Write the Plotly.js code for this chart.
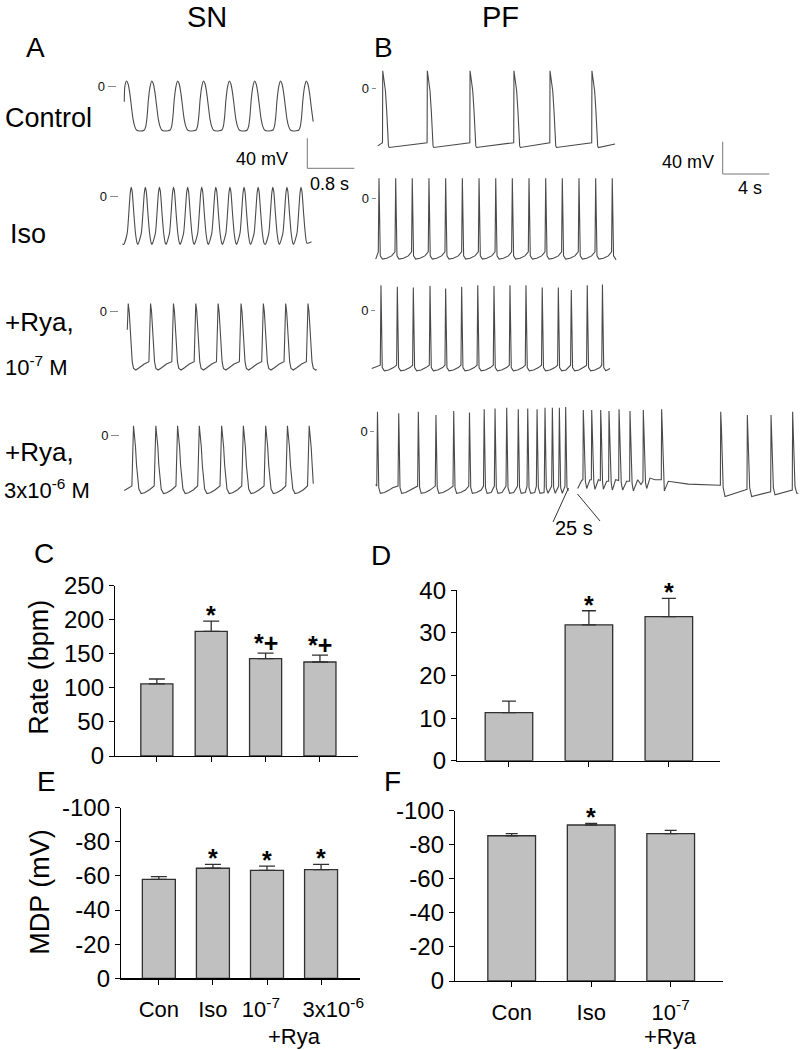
<!DOCTYPE html>
<html><head><meta charset="utf-8">
<script src="https://cdn.plot.ly/plotly-3.0.1.min.js"></script>
<style>html,body{margin:0;padding:0;background:#fff}#chart{width:803px;height:1050px}</style>
</head><body><div id="chart"></div>
<script>
// ---------------- DATA ----------------
// SN (sinus node) traces: peak times (s), beat waveform (offset s, mV), start/end points [s, mV]
const snControlPeaks = [0.11, 0.54, 0.98, 1.42, 1.86, 2.29, 2.73, 3.17];
const snControlWaveT = [-0.125,-0.102,-0.079,-0.057,-0.028,0,0.028,0.057,0.085,0.113,0.142,0.17,0.227];
const snControlWaveV = [-57.7,-53.3,-40,-17.8,0,7.6,3.6,-8.9,-26.7,-43.6,-53.3,-57.7,-59.1];
const snControlEnds = [[0.073,-20],[3.29,-46.7]];

const snIsoPeaks = [0.19, 0.43, 0.67, 0.91, 1.15, 1.39, 1.63, 1.87, 2.11, 2.35, 2.60, 2.84, 3.08];
const snIsoWaveT = [-0.125,-0.068,-0.04,-0.017,0,0.017,0.045,0.074,0.102];
const snIsoWaveV = [-63.5,-49,-22,4,12.5,7,-22,-49,-62];
const snIsoEnds = [[0.04,-63],[3.26,-60]];

const snRya1Peaks = [0.14, 0.52, 0.91, 1.29, 1.67, 2.06, 2.44, 2.82, 3.20];
const snRya1WaveT = [-0.028,0,0.017,0.034,0.051,0.068,0.091,0.13,0.187,0.272];
const snRya1WaveV = [-66.7,11,0,-20,-47,-67,-75.6,-77.8,-74.7,-69.8];
const snRya1Ends = [[0.124,-24],[3.348,-77]];

const snRya3Peaks = [0.23, 0.61, 0.98, 1.35, 1.73, 2.10, 2.48, 2.85, 3.22];
const snRya3WaveT = [-0.028,0,0.017,0.034,0.051,0.068,0.091,0.13,0.187,0.272];
const snRya3WaveV = [-68,12.4,2,-16,-40,-60,-72,-78,-77,-73];
const snRya3Ends = [[0.073,-74],[3.29,-65]];

// PF (Purkinje fibre) traces
const pfControlPeaks = [1.09, 4.91, 8.57, 12.33, 15.42, 19.01];
const pfControlWaveT = [-0.02,0,0.09,0.23,0.34,0.43,0.49,0.55];
const pfControlWaveV = [-68,22,13,-3,-28,-58,-72,-74];
const pfControlEnds = [[0.66,-72],[20.99,-69.6]];

const pfIsoPeaks = [0.77, 2.20, 3.62, 5.05, 6.48, 7.91, 9.34, 10.77, 12.19, 13.62, 15.05, 16.47, 17.90, 19.33, 20.75];
const pfIsoWaveT = [-0.06,0,0.03,0.11,0.29,0.66,1.08,1.3];
const pfIsoWaveV = [-67,25,0,-72,-76,-75,-72,-69];
const pfIsoEnds = [[0.49,-76],[21.07,-77]];

const pfRya1Peaks = [0.94, 2.34, 3.71, 5.14, 6.48, 7.85, 9.23, 10.62, 11.99, 13.36, 14.75, 16.13, 17.24, 18.61, 19.91];
const pfRya1PeakV = [31, 29, 28, 30, 27, 29, 31, 30, 31, 31, 28, 28, 25, 31, 32];
const pfRya1WaveT = [-0.06,0,0.03,0.11,0.29,0.66,1.08,1.24];
const pfRya1WaveV = [-69,31,0,-72,-76,-75,-72,-70];
const pfRya1Ends = [[0.15,-73],[20.56,-73]];

const pfRya3Peaks = [0.64, 2.46, 4.14, 5.65, 7.17, 8.52, 9.78, 10.71, 11.71, 12.70, 13.51, 14.31, 14.99, 15.62, 16.22, 16.76];
const pfRya3PeakV = [25, 23, 25, 21, 26, 24, 28, 29, 30, 28, 29, 28, 30, 30, 30, 31];
const pfRya3WaveT = [-0.06,0,0.03,0.11,0.25,0.6,1.0,1.3];
const pfRya3WaveV = [-68,25,0,-70,-77,-76,-73,-70];
const pfRya3Ends = [[0.49,-66],[16.99,-74]];
// after the 25 s gap
const pfRya3Seg2T = [17.79,18.13,18.24,18.27,18.32,18.45,18.56,18.84,18.96,18.99,19.04,19.17,19.27,19.56,19.73,19.76,19.81,19.92,19.99,20.27,20.44,20.47,20.52,20.66,20.76,21.04,21.30,21.33,21.38,21.52,21.64,21.98,22.24,22.27,22.32,22.45,22.56,22.93,23.21,23.38,23.41,23.46,23.60,23.70,23.98,24.40,24.84,24.95,24.98,25.03,25.13,25.21,25.55,27.27,29.98,30.01,30.04,30.10,30.25,30.41,32.12,32.29,32.32,32.37,32.52,32.69,34.20,34.32,34.35,34.40,34.55,34.69,36.06,36.17,36.20,36.25,36.40,36.55,36.69];
const pfRya3Seg2V = [-71,-61,-60,27,5,-62,-71,-60,-60,27,5,-63,-72,-60,-61,27,5,-63,-72,-62,-62,26,5,-64,-73,-60,-61,28,5,-64,-73,-62,-62,26,5,-65,-74,-60,-66,-62,27,5,-64,-71,-58,-60,-60,-60,28,5,-66,-74,-62,-65.5,-67,-67,25,5,-70,-81,-73,-72,21,3,-70,-81,-75,-75,21,3,-70,-79,-73,-73,25,5,-68,-77,-77];

// Bar charts
const snCategories = ['Con', 'Iso', '10<sup>-7</sup>\u00a0\u00a0', '\u00a0\u00a0\u00a0\u00a03x10<sup>-6</sup>'];
const pfCategories = ['Con', 'Iso', '10<sup>-7</sup>'];
const ryaLabel = '+Rya';
const snRate = [106, 183, 143, 138];
const snRateErr = [7, 15, 8, 10];
const snRateMarks = ['', '*', '*+', '*+'];
const pfRate = [11.3, 31.9, 33.8];
const pfRateErr = [2.7, 3.3, 4.3];
const pfRateMarks = ['', '*', '*'];
const snMdp = [-58.0, -64.5, -63.3, -63.7];
const snMdpErr = [1.6, 2.3, 2.5, 3.1];
const snMdpMarks = ['', '*', '*', '*'];
const pfMdp = [-85.3, -91.6, -86.5];
const pfMdpErr = [1.2, 1.0, 2.0];
const pfMdpMarks = ['', '*', ''];
const mdpTickVals = [0, -20, -40, -60, -80, -100];
const mdpTickText = ['0', '-20', '-40', '-60', '-80', '-100'];

// ---------------- LAYOUT HELPERS ----------------
const W = 803, H = 1050;
const FONT = 'Liberation Sans, Arial, Helvetica, sans-serif';
const X = px => px / W;
const Y = py => 1 - py / H;

function buildTrace(peaks, peakV, waveT, waveV, ends) {
  const xs = [ends[0][0]], ys = [ends[0][1]];
  for (let i = 0; i < peaks.length; i++) {
    const p = peaks[i];
    const next = i + 1 < peaks.length ? peaks[i + 1] : null;
    for (let k = 0; k < waveT.length; k++) {
      const t = p + waveT[k];
      if (t <= ends[0][0] || t >= ends[1][0]) continue;
      if (waveT[k] > 0 && next !== null && t >= next + waveT[0] - 0.01) continue;
      let v = waveV[k];
      if (waveT[k] === 0 && peakV) v = Array.isArray(peakV) ? peakV[i] : peakV;
      xs.push(t); ys.push(v);
    }
  }
  xs.push(ends[1][0]); ys.push(ends[1][1]);
  return { xs, ys };
}

const traceLine = { color: '#4a4a4a', width: 1.1 };
const data = [];
const layout = {
  width: W, height: H, margin: { l: 0, r: 0, t: 0, b: 0 },
  paper_bgcolor: '#fff', plot_bgcolor: 'rgba(0,0,0,0)', showlegend: false,
  font: { family: FONT, color: '#000', size: 16 },
  annotations: [], shapes: []
};

// trace x axes
const snPxPerS = 58.75, snPxPerMV = 0.75, pfPxPerS = 11.675, pfPxPerMV = 0.8;
layout.xaxis = { domain: [X(120), X(320)], range: [0, 200 / snPxPerS], visible: false, anchor: 'free', position: 0, fixedrange: true };
layout.xaxis2 = { domain: [X(370), X(800)], range: [0, 430 / pfPxPerS], visible: false, anchor: 'free', position: 0, fixedrange: true };

function traceYAxis(zeroPx, dashEndPx, k, lo, hi, dashLen) {
  return {
    domain: [Y(zeroPx - lo * k), Y(zeroPx - hi * k)], range: [lo, hi],
    anchor: 'free', position: X(dashEndPx),
    showgrid: false, zeroline: false, showline: false,
    tickmode: 'array', tickvals: [0], ticktext: ['0'], ticks: 'outside',
    ticklen: dashLen, tickwidth: 1, tickcolor: '#8a8a8a',
    tickfont: { size: 13, color: '#111', family: FONT }, fixedrange: true
  };
}

const snRows = [
  [snControlPeaks, null, snControlWaveT, snControlWaveV, snControlEnds, 86.7, 115.7, 'spline'],
  [snIsoPeaks, null, snIsoWaveT, snIsoWaveV, snIsoEnds, 196.7, 117.7, 'spline'],
  [snRya1Peaks, null, snRya1WaveT, snRya1WaveV, snRya1Ends, 311.7, 117.7, 'linear'],
  [snRya3Peaks, null, snRya3WaveT, snRya3WaveV, snRya3Ends, 435, 119, 'linear']
];
snRows.forEach((r, i) => {
  const tr = buildTrace(r[0], r[1], r[2], r[3], r[4]);
  const yn = i + 1;
  data.push({ type: 'scatter', mode: 'lines', x: tr.xs, y: tr.ys, xaxis: 'x', yaxis: yn === 1 ? 'y' : 'y' + yn,
    line: Object.assign({ shape: r[7], smoothing: 0.6 }, traceLine), hoverinfo: 'skip' });
  layout[yn === 1 ? 'yaxis' : 'yaxis' + yn] = traceYAxis(r[5], r[6], snPxPerMV, -95, 30, 8);
});

const pfRows = [
  [pfControlPeaks, null, pfControlWaveT, pfControlWaveV, pfControlEnds, 88.3, 375.7],
  [pfIsoPeaks, null, pfIsoWaveT, pfIsoWaveV, pfIsoEnds, 198.3, 375.7],
  [pfRya1Peaks, pfRya1PeakV, pfRya1WaveT, pfRya1WaveV, pfRya1Ends, 310, 375],
  [pfRya3Peaks, pfRya3PeakV, pfRya3WaveT, pfRya3WaveV, pfRya3Ends, 431.7, 374.3]
];
pfRows.forEach((r, i) => {
  const tr = buildTrace(r[0], r[1], r[2], r[3], r[4]);
  const yn = i + 5;
  data.push({ type: 'scatter', mode: 'lines', x: tr.xs, y: tr.ys, xaxis: 'x2', yaxis: 'y' + yn,
    line: traceLine, hoverinfo: 'skip' });
  layout['yaxis' + yn] = traceYAxis(r[5], r[6], pfPxPerMV, -100, 40, 4);
});
data.push({ type: 'scatter', mode: 'lines', x: pfRya3Seg2T, y: pfRya3Seg2V, xaxis: 'x2', yaxis: 'y8',
  line: traceLine, hoverinfo: 'skip' });

// ---------------- BAR CHARTS ----------------
function barPanel(xn, yn, cats, vals, errs, marks, dom, xr, yr, barW, capW, negative, yticks) {
  const xs = cats.map((c, i) => i);
  data.push({
    type: 'bar', x: xs, y: vals, xaxis: 'x' + xn, yaxis: 'y' + yn, width: barW,
    marker: { color: '#c0c0c0', line: { color: '#303030', width: 1.3 } },
    error_y: negative
      ? { type: 'data', symmetric: false, array: vals.map(() => 0), arrayminus: errs, color: '#303030', thickness: 1.3, width: capW }
      : { type: 'data', symmetric: false, array: errs, arrayminus: vals.map(() => 0), color: '#303030', thickness: 1.3, width: capW },
    hoverinfo: 'skip'
  });
  layout['xaxis' + xn] = {
    domain: [X(dom[0]), X(dom[1])], range: xr, anchor: 'y' + yn,
    showline: true, linecolor: '#000', linewidth: 1.2, ticks: 'outside', ticklen: 5, tickcolor: '#000',
    tickmode: 'array', tickvals: xs, ticktext: cats, showticklabels: !!yticks.showX, ticklabelstandoff: 6, tickangle: 0,
    tickfont: { size: 22, family: FONT, color: '#000' }, showgrid: false, zeroline: false, fixedrange: true
  };
  const ya = {
    domain: [Y(dom[3]), Y(dom[2])], range: yr, anchor: 'x' + xn,
    showline: true, linecolor: '#000', linewidth: 1.2, ticks: 'outside', ticklen: 5, tickcolor: '#000',
    tickfont: { size: 24, family: FONT, color: '#000' }, showgrid: false, zeroline: false, fixedrange: true
  };
  if (yticks.vals) { ya.tickmode = 'array'; ya.tickvals = yticks.vals; ya.ticktext = yticks.text; }
  else { ya.dtick = yticks.dtick; }
  layout['yaxis' + yn] = ya;
  marks.forEach((m, i) => {
    if (!m) return;
    layout.annotations.push({
      text: '<b>' + m + '</b>', x: i, y: negative ? vals[i] - errs[i] : vals[i] + errs[i],
      xref: 'x' + xn, yref: 'y' + yn, showarrow: false, xanchor: 'center', yanchor: 'bottom',
      yshift: m.length > 1 ? -6 : -10, font: { size: 25, family: FONT, color: '#000' }
    });
  });
}
// C: SN rate
barPanel(3, 9, snCategories, snRate, snRateErr, snRateMarks, [115, 358, 585.7, 756], [-0.77, 3.7], [0, 250], 0.59, 8, false, { dtick: 50 });
// D: PF rate
barPanel(4, 10, pfCategories, pfRate, pfRateErr, pfRateMarks, [457, 720, 590.3, 760.7], [-0.65, 2.64], [0, 40], 0.595, 7, false, { dtick: 10 });
// E: SN MDP
barPanel(5, 11, snCategories, snMdp, snMdpErr, snMdpMarks, [121, 360, 807.7, 978.3], [-0.70, 3.72], [0, -100], 0.61, 8, true, { vals: mdpTickVals, text: mdpTickText, showX: true });
// F: PF MDP
barPanel(6, 12, pfCategories, pfMdp, pfMdpErr, pfMdpMarks, [455, 722.7, 810.7, 981], [-0.713, 2.654], [0, -100], 0.6, 6, true, { vals: mdpTickVals, text: mdpTickText, showX: true });

// ---------------- TEXT ----------------
function ann(text, xpx, ypx, size, opts) {
  return Object.assign({ text, x: X(xpx), y: Y(ypx), xref: 'paper', yref: 'paper', showarrow: false,
    font: { size, family: FONT, color: '#000' }, xanchor: 'center', yanchor: 'middle' }, opts || {});
}
layout.annotations.push(
  ann('SN', 207, 17, 29), ann('PF', 500, 17, 29),
  ann('A', 35, 47, 28), ann('B', 383, 47, 28),
  ann('Control', 3, 118, 27, { xanchor: 'left' }),
  ann('Iso', 8, 234, 27, { xanchor: 'left' }),
  ann('+Rya,', 3, 322, 26, { xanchor: 'left' }),
  ann('10<sup>-7</sup> M', 3, 366, 22, { xanchor: 'left' }),
  ann('+Rya,', 3, 452, 26, { xanchor: 'left' }),
  ann('3x10<sup>-6</sup> M', 2, 489, 22, { xanchor: 'left' }),
  ann('40 mV', 290, 159.5, 18, { xanchor: 'right' }),
  ann('0.8 s', 308, 184, 18, { xanchor: 'left' }),
  ann('40 mV', 716, 161.7, 18, { xanchor: 'right' }),
  ann('4 s', 736, 188.3, 18, { xanchor: 'left' }),
  ann('25 s', 574, 528, 20),
  ann('C', 44, 553, 28), ann('D', 381, 555, 28),
  ann('E', 46.5, 781, 28), ann('F', 392, 781, 28),
  ann('Rate (bpm)', 38.3, 667.5, 27, { textangle: -90 }),
  ann('MDP (mV)', 40, 891.7, 27, { textangle: -90 }),
  { text: ryaLabel, x: 2.5, y: Y(1036), xref: 'x5', yref: 'paper', showarrow: false,
    font: { size: 22, family: FONT, color: '#000' }, xanchor: 'center', yanchor: 'middle' },
  { text: ryaLabel, x: 2, y: Y(1036), xref: 'x6', yref: 'paper', showarrow: false,
    font: { size: 22, family: FONT, color: '#000' }, xanchor: 'center', yanchor: 'middle' }
);

// scale bars and gap marks
function seg(a, b, c, d, color) {
  return { type: 'line', xref: 'paper', yref: 'paper', x0: X(a), y0: Y(b), x1: X(c), y1: Y(d), line: { color: color || '#777', width: 1 } };
}
layout.shapes.push(
  seg(307.3, 138.3, 307.3, 168.3), seg(307.3, 168.3, 354.3, 168.3),
  seg(722.7, 141.7, 722.7, 174), seg(722.7, 174, 769.3, 174),
  seg(568.5, 488, 553, 522, '#333'), seg(577.5, 494, 600, 521, '#333')
);

Plotly.newPlot('chart', data, layout, { staticPlot: true, displayModeBar: false });
</script></body></html>
